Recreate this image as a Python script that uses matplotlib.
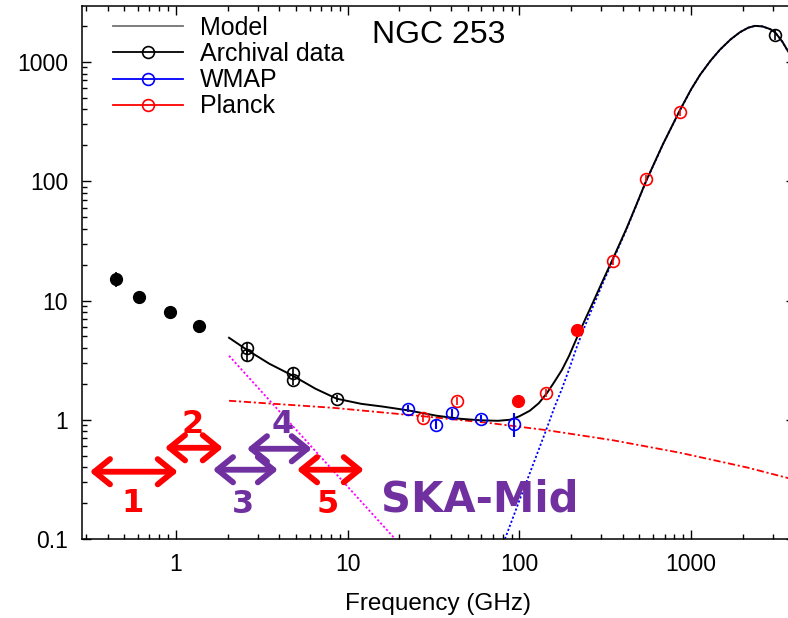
import matplotlib
matplotlib.use("Agg")
import matplotlib.pyplot as plt
from matplotlib.lines import Line2D
from matplotlib.patches import FancyArrowPatch

plt.rcParams['font.family'] = ['Liberation Sans', 'DejaVu Sans']

# ---------------- data (GHz, Jy) ----------------
low_x = [0.447, 0.609, 0.923, 1.36]
low_y = [15.2, 10.7, 8.04, 6.14]
low_err = [2.2, 0.5, 0.4, 0.3]

arch_x = [2.59, 2.59, 4.80, 4.80, 8.66, 3080]
arch_y = [4.0, 3.5, 2.48, 2.16, 1.50, 1690]
arch_err = [0.45, 0.4, 0.25, 0.22, 0.1, 150]

wmap_x = [22.4, 32.7, 40.5, 59.7, 93.0]
wmap_y = [1.24, 0.91, 1.14, 1.02, 0.925]
wmap_err_lo = [0.08, 0.08, 0.08, 0.07, 0.205]
wmap_err_hi = [0.08, 0.08, 0.08, 0.07, 0.22]

planck_x = [27.5, 43.3, 143, 351, 546, 861]
planck_y = [1.04, 1.44, 1.68, 21.5, 105, 380]
planck_err = [0.08, 0.12, 0.12, 1.5, 7, 25]

planck_fill_x = [98, 216]
planck_fill_y = [1.44, 5.7]

model_x = [2.04, 2.59, 3.5, 4.80, 6.5, 8.66, 12, 16, 22.4, 33.1, 45, 58.9, 75, 88.2,
           100, 115, 130, 145, 160, 177, 195, 216, 240, 268, 305, 351, 420, 480, 546,
           686, 861, 1000, 1127, 1300, 1473, 1700, 1927, 2150, 2355, 2600, 2880, 3080,
           3400, 3668]
model_y = [4.87, 3.86, 2.95, 2.34, 1.82, 1.50, 1.36, 1.29, 1.20, 1.08, 1.02, 0.99, 0.98, 1.0,
           1.07, 1.19, 1.38, 1.68, 2.08, 2.62, 3.45, 4.85, 6.8, 9.6, 14.5, 22.5, 40, 63.5, 100,
           205, 395, 590, 780, 1030, 1270, 1550, 1780, 1940, 2010, 1990, 1890, 1780,
           1480, 1230]

sync_x = [2.04, 18.9]
sync_y = [3.44, 0.1]

ff_x = [2.04, 8.2, 27.5, 67.4, 145, 351, 861, 2117, 4000]
ff_y = [1.443, 1.26, 1.07, 0.938, 0.817, 0.673, 0.529, 0.398, 0.314]

dust_x = [82.4, 100, 123, 145, 160, 177, 195, 216, 240, 268, 305, 351, 420, 480, 546,
          686, 861, 1000, 1127, 1300, 1473, 1700, 1927, 2150, 2355, 2600, 2880, 3080, 3400, 3668]
dust_y = [0.1, 0.21, 0.46, 0.86, 1.27, 1.82, 2.66, 4.08, 6.04, 8.86, 13.8, 21.8, 39.3, 62.9, 99.4,
          204, 394, 589, 779, 1029, 1269, 1549, 1779, 1939, 2009, 1989, 1889, 1779, 1479, 1229]

# SKA-Mid bands (annotation arrows)
band_names = ['1', '2', '3', '4', '5']
band_lo = [0.3155, 0.863, 1.642, 2.59, 5.07]
band_hi = [1.027, 1.878, 3.93, 6.19, 12.44]
band_y = [0.3666, 0.582, 0.381, 0.571, 0.381]
band_label_x = [0.562, 1.256, 2.455, 4.20, 7.68]
band_label_y = [0.1694, 0.778, 0.1665, 0.778, 0.1665]
band_colors = ['#FF0000', '#FF0000', '#7030A0', '#7030A0', '#FF0000']

# ---------------- figure ----------------
W, H = 788, 618
fig = plt.figure(figsize=(W / 100, H / 100), dpi=100)
left_px, right_px, top_px, bot_px = 82, 794.5, 6, 539
ax = fig.add_axes([left_px / W, 1 - bot_px / H, (right_px - left_px) / W, (bot_px - top_px) / H])
ax.set_xscale('log')
ax.set_yscale('log')
ax.set_xlim(0.284, 4000)
ax.set_ylim(0.1, 2950)

ax.plot(sync_x, sync_y, color='#FF00FF', lw=1.3, ls=(0, (1.2, 1.2)), zorder=2)
ax.plot(ff_x, ff_y, color='#FF0000', lw=1.3, ls=(0, (4, 1.5, 1.2, 1.5)), zorder=2)
ax.plot(dust_x, dust_y, color='#0000FF', lw=1.3, ls=(0, (1.2, 1.2)), zorder=2)
ax.plot(model_x, model_y, color='black', lw=1.4, zorder=3)

ms = 8.5
ax.errorbar(low_x, low_y, yerr=low_err, fmt='o', color='black', ms=ms, elinewidth=1.2, capsize=0, zorder=5)
ax.errorbar(arch_x, arch_y, yerr=arch_err, fmt='o', mfc='none', mec='black', color='black',
            ms=ms, mew=1.2, elinewidth=1.2, capsize=0, zorder=5)
ax.errorbar(wmap_x, wmap_y, yerr=[wmap_err_lo, wmap_err_hi], fmt='o', mfc='none', mec='#0000FF',
            color='#0000FF', ms=ms, mew=1.2, elinewidth=1.5, capsize=0, zorder=5)
ax.errorbar(planck_x, planck_y, yerr=planck_err, fmt='o', mfc='none', mec='#FF0000', color='#FF0000',
            ms=ms, mew=1.2, elinewidth=1.2, capsize=0, zorder=5)
ax.plot(planck_fill_x, planck_fill_y, 'o', color='#FF0000', ms=ms, zorder=5)

# ticks
ax.tick_params(which='both', direction='in', top=True, right=True, width=1.0, labelsize=16.5)
ax.tick_params(which='major', length=6.5, pad=10)
ax.tick_params(which='minor', length=3.5)
ax.set_xticks([1, 10, 100, 1000])
ax.set_xticklabels(['1', '10', '100', '1000'])
ax.set_yticks([0.1, 1, 10, 100, 1000])
ax.set_yticklabels(['0.1', '1', '10', '100', '1000'])
for s in ax.spines.values():
    s.set_linewidth(1.1)

ax.set_xlabel('Frequency (GHz)', fontsize=17.5, labelpad=12.5)

# legend
handles = [
    Line2D([], [], color='0.45', lw=1.3),
    Line2D([], [], color='black', lw=1.3, marker='o', mfc='none', mec='black', ms=ms, mew=1.2),
    Line2D([], [], color='#0000FF', lw=1.3, marker='o', mfc='none', mec='#0000FF', ms=ms, mew=1.2),
    Line2D([], [], color='#FF0000', lw=1.3, marker='o', mfc='none', mec='#FF0000', ms=ms, mew=1.2),
]
ax.legend(handles, ['Model', 'Archival data', 'WMAP', 'Planck'], loc='upper left',
          bbox_to_anchor=(113 / W, 1 - 16 / H), bbox_transform=fig.transFigure,
          frameon=False, fontsize=18, handlelength=2.8, handletextpad=0.68,
          borderpad=0, borderaxespad=0, labelspacing=0.085)

ax.text((372 - left_px) / (right_px - left_px), (bot_px - 43) / (bot_px - top_px), 'NGC 253',
        transform=ax.transAxes, fontsize=23, ha='left', va='baseline')

# SKA-Mid band arrows
for lo, hi, yy, c in zip(band_lo, band_hi, band_y, band_colors):
    arr = FancyArrowPatch((lo, yy), (hi, yy), arrowstyle='<->,head_length=0.8,head_width=0.65',
                          mutation_scale=14, color=c, lw=4.2, capstyle='round', joinstyle='round',
                          shrinkA=0, shrinkB=0, zorder=6)
    ax.add_patch(arr)
for name, lx, ly, c in zip(band_names, band_label_x, band_label_y, band_colors):
    ax.text(lx, ly, name, color=c, fontsize=23, fontweight='bold', family='DejaVu Sans',
            ha='center', va='baseline', zorder=6)

ax.text(58.9, 0.1694, 'SKA-Mid', color='#7030A0', fontsize=30, fontweight='bold',
        family='DejaVu Sans', ha='center', va='baseline', zorder=6)

fig.savefig('out.png', dpi=100)
